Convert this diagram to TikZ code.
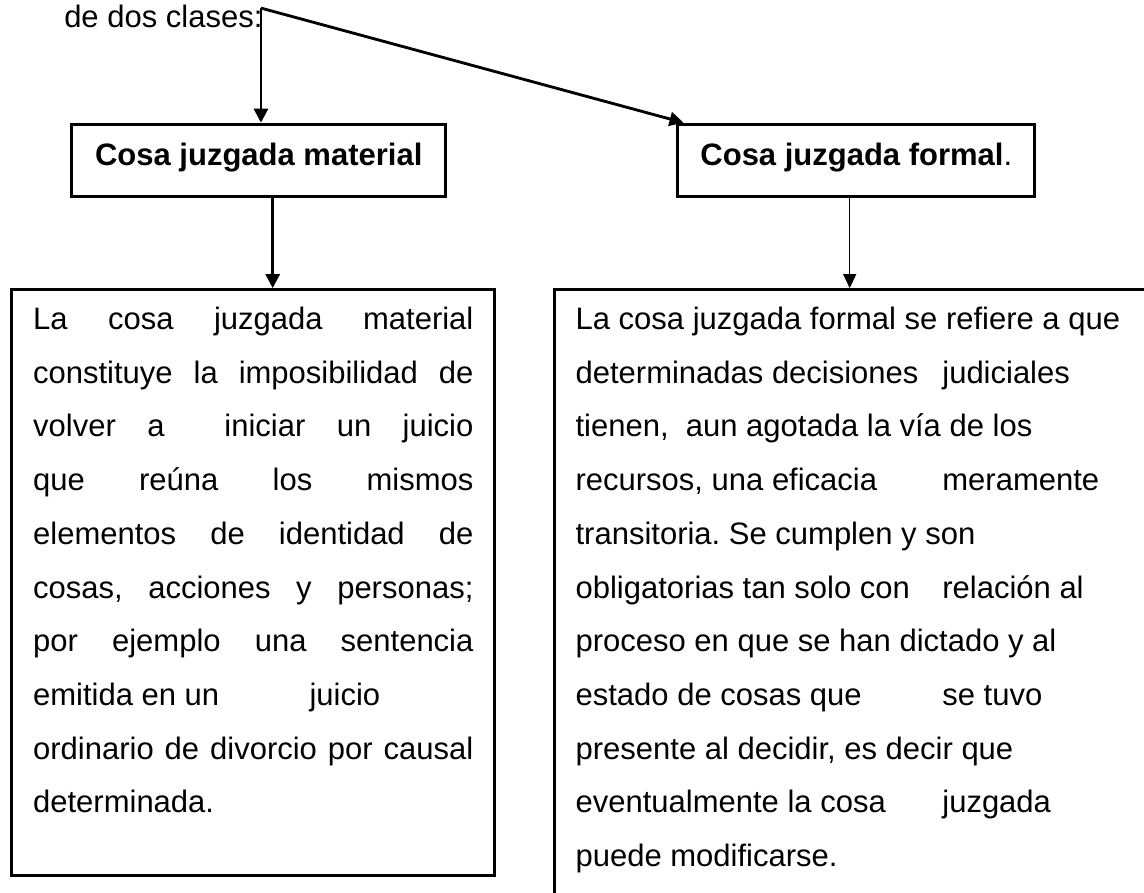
\documentclass[tikz,border=0pt]{standalone}
\usepackage{fontspec}
\setmainfont{Liberation Sans}
\usetikzlibrary{arrows.meta}
\frenchspacing

\tikzset{
  smallbox/.style={draw, line width=1.2pt, minimum height=0.98cm,
    text height=0.30cm, text depth=0.16cm},
  bigbox/.style={draw, line width=1.2pt, anchor=north west, inner ysep=0pt,
    align=left, font=\fontsize{12}{20.8}\selectfont, text height=0.54cm,
    execute at begin node={\spaceskip=0pt\xspaceskip=0pt}},
  thickarrow/.style={line width=1.1pt, -{Triangle[width=5.4pt,length=5.4pt]}},
  thinarrow/.style={line width=0.5pt, -{Triangle[width=5pt,length=5.4pt]}}
}
% one justified line, and a line with a tab stop
\newcommand{\jline}[1]{\makebox[\hsize][s]{#1}}
\newcommand{\tabword}[3]{\makebox[#1][l]{#2}#3}

\begin{document}
\begin{tikzpicture}[font=\fontsize{12}{14.4}\selectfont]
\useasboundingbox (0,0) rectangle (15.564,-12.136);

\node[anchor=base west] (intro) at (0.75,-0.37) {de dos clases:};
\coordinate (split) at (3.55,-0.11);

\node[smallbox, minimum width=5.09cm] (material) at (3.52,-2.18)
  {\textbf{Cosa juzgada material}};
\node[smallbox, minimum width=4.86cm] (formal) at (11.65,-2.18)
  {\textbf{Cosa juzgada formal}.};

\node[bigbox, text width=5.99cm, inner xsep=0.29cm, text depth=7.43cm]
  (matbox) at (0.14,-3.92)
  {\jline{La cosa juzgada material}\\
   \jline{constituye la imposibilidad de}\\
   \jline{volver a\hspace{11pt} iniciar un juicio}\\
   \jline{que reúna los mismos}\\
   \jline{elementos de identidad de}\\
   \jline{cosas, acciones y personas;}\\
   \jline{por ejemplo una sentencia}\\
   \tabword{107pt}{emitida en un}{juicio}\\
   \jline{ordinario de divorcio por causal}\\
   determinada.};

\node[bigbox, text width=7.47cm, inner xsep=0.29cm, text depth=8.6cm]
  (formbox) at (7.52,-3.92)
  {La cosa juzgada formal se refiere a que\\
   \tabword{142pt}{determinadas decisiones}{judiciales}\\
   tienen,\ \ aun agotada la vía de los\\
   \tabword{142pt}{recursos, una eficacia}{meramente}\\
   transitoria. Se cumplen y son\\
   \tabword{142pt}{obligatorias tan solo con}{relación al}\\
   proceso en que se han dictado y al\\
   \tabword{142pt}{estado de cosas que}{se tuvo}\\
   presente al decidir, es decir que\\
   \tabword{142pt}{eventualmente la cosa}{juzgada}\\
   puede modificarse.};

\draw[thickarrow] (split) -- (split |- material.north);
\draw[thickarrow] (split) -- ([xshift=0.1cm]formal.north west);
\draw[thickarrow] ([xshift=0.19cm]material.south) -- ([xshift=0.19cm]material.south |- matbox.north);
\draw[thinarrow] ([xshift=-0.09cm]formal.south) -- ([xshift=-0.09cm]formal.south |- formbox.north);
\end{tikzpicture}
\end{document}
